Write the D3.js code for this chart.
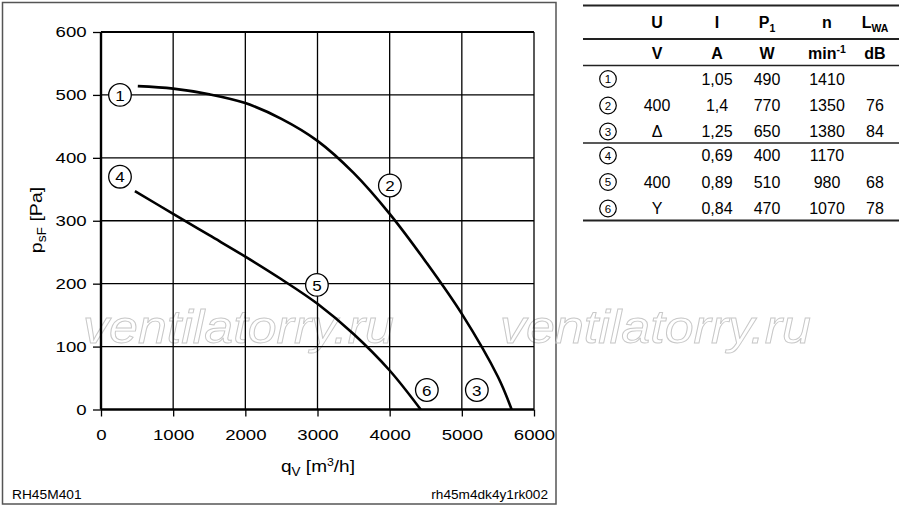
<!DOCTYPE html>
<html>
<head>
<meta charset="utf-8">
<script src="https://cdn.jsdelivr.net/npm/d3@7"></script>
<style>
  body { margin: 0; background: #fff; }
  svg { display: block; font-family: "Liberation Sans", Arial, sans-serif; }
</style>
</head>
<body>
<div id="canvas"></div>
<script>
// curves: [q m3/h, p Pa]
const curveHigh = [[510, 514], [1000, 510], [1500, 501], [2000, 487], [2500, 462], [3000, 427],
  [3500, 376], [4000, 311], [4500, 235], [5000, 152], [5500, 52], [5690, 0]];
const curveLow = [[470, 347], [1000, 311], [1500, 277], [2000, 243], [2500, 207], [3000, 168],
  [3500, 120], [4000, 62], [4430, 0]];

// circled markers on the plot
const markerIds = ["1", "2", "3", "4", "5", "6"];
const markerPos = [[263, 500], [4003, 356], [5208, 31], [263, 370], [2992, 198], [4515, 31]];

const xTicks = [0, 1000, 2000, 3000, 4000, 5000, 6000];
const yTicks = [0, 100, 200, 300, 400, 500, 600];

// table
const colHead = ["U", "I", "P", "n", "L"];
const colHeadSub = ["", "", "1", "", "WA"];
const colUnit = ["V", "A", "W", "min", "dB"];
const colUnitSup = ["", "", "", "-1", ""];
const rowIds = ["1", "2", "3", "4", "5", "6"];
const colU = ["", "400", "\u0394", "", "400", "Y"];
const colI = ["1,05", "1,4", "1,25", "0,69", "0,89", "0,84"];
const colP = ["490", "770", "650", "400", "510", "470"];
const colN = ["1410", "1350", "1380", "1170", "980", "1070"];
const colL = ["", "76", "84", "", "68", "78"];

const width = 900, height = 507;
const margin = { top: 32, left: 101, bottom: 97.5, right: 366 };
const iwidth = width - margin.left - margin.right;
const iheight = height - margin.top - margin.bottom;

const svg = d3.select("#canvas").append("svg")
  .attr("width", width)
  .attr("height", height);

// outer frame
svg.append("rect")
  .attr("x", 2.5).attr("y", 2.5)
  .attr("width", 553.5).attr("height", 501.5)
  .attr("fill", "none").attr("stroke", "#555").attr("stroke-width", 1.5);

// watermark
[83, 500].forEach(wx => {
  svg.append("text")
    .attr("transform", `translate(${wx},343) scale(1.13,1)`)
    .attr("font-size", 46).attr("font-style", "italic")
    .attr("fill", "none").attr("stroke", "#c8c8c8").attr("stroke-width", 0.9)
    .text("ventilatorry.ru");
});

const g = svg.append("g").attr("transform", `translate(${margin.left},${margin.top})`);

const x = d3.scaleLinear().domain([0, 6000]).range([0, iwidth]);
const y = d3.scaleLinear().domain([0, 600]).range([iheight, 0]);

// grid
g.append("g").selectAll("line").data(xTicks.slice(1)).enter().append("line")
  .attr("x1", d => x(d)).attr("x2", d => x(d))
  .attr("y1", 0).attr("y2", iheight)
  .attr("stroke", "#000").attr("stroke-width", 1.3);
g.append("g").selectAll("line").data(yTicks.slice(1)).enter().append("line")
  .attr("x1", 0).attr("x2", iwidth)
  .attr("y1", d => y(d)).attr("y2", d => y(d))
  .attr("stroke", "#000").attr("stroke-width", d => d === 600 ? 2.2 : 1.3);

// axes
const xAxis = g.append("g")
  .attr("transform", `translate(0,${iheight})`)
  .call(d3.axisBottom(x).tickValues(xTicks).tickSize(7).tickPadding(13).tickFormat(d3.format("d")));
const yAxis = g.append("g")
  .call(d3.axisLeft(y).tickValues(yTicks).tickSize(8).tickPadding(4).tickFormat(d3.format("d")));
[xAxis, yAxis].forEach(a => {
  a.select(".domain").attr("stroke", "#000").attr("stroke-width", 2.4);
  a.selectAll(".tick line").attr("stroke", "#000").attr("stroke-width", 1.3);
  a.selectAll(".tick text").attr("font-size", 15.5).attr("fill", "#000")
    .attr("transform", "scale(1.2,1)")
    .attr("font-family", "Liberation Sans, Arial, sans-serif");
});
xAxis.select(".domain").attr("d", `M0,0H${iwidth}`);
yAxis.select(".domain").attr("d", `M0,${iheight}V0`);

// curves
const line = d3.line().x(d => x(d[0])).y(d => y(d[1])).curve(d3.curveCatmullRom.alpha(0.5));
[curveHigh, curveLow].forEach(c => {
  g.append("path").datum(c)
    .attr("d", line)
    .attr("fill", "none").attr("stroke", "#000").attr("stroke-width", 2.6);
});

// circled markers
const mk = g.selectAll(".mk").data(markerIds).enter().append("g")
  .attr("transform", (d, i) => `translate(${x(markerPos[i][0])},${y(markerPos[i][1])})`);
mk.append("circle").attr("r", 11.3).attr("fill", "#fff").attr("stroke", "#000").attr("stroke-width", 1.3);
mk.append("text").attr("text-anchor", "middle").attr("dy", "0.36em")
  .attr("font-size", 15.5).attr("transform", "scale(1.1,1)").text(d => d);

// axis titles
const yl = svg.append("text")
  .attr("transform", "translate(42,220) rotate(-90) scale(1.15,1)")
  .attr("text-anchor", "middle").attr("font-size", 17);
yl.append("tspan").text("p");
yl.append("tspan").attr("dy", 4).attr("font-size", 12).text("sF");
yl.append("tspan").attr("dy", -4).text(" [Pa]");

const xl = svg.append("text")
  .attr("transform", "translate(318,472) scale(1.12,1)")
  .attr("text-anchor", "middle").attr("font-size", 17);
xl.append("tspan").text("q");
xl.append("tspan").attr("dy", 4).attr("font-size", 12).text("V");
xl.append("tspan").attr("dy", -4).text(" [m");
xl.append("tspan").attr("dy", -6).attr("font-size", 11).text("3");
xl.append("tspan").attr("dy", 6).text("/h]");

// footer
svg.append("text").attr("transform", "translate(12,499) scale(1.06,1)")
  .attr("font-size", 13).text("RH45M401");
svg.append("text").attr("transform", "translate(548,499) scale(1.05,1)").attr("text-anchor", "end")
  .attr("font-size", 13).text("rh45m4dk4y1rk002");

// table
const colX = [657, 717, 767, 827, 875];
const rowY = [79, 105.5, 131.5, 155.5, 182, 208.5];
const tl = 583, tr = 899;
[[5.5, 2], [39, 2], [65.5, 1.6], [143, 1.6], [220.5, 2]].forEach(([ly, w]) => {
  svg.append("line").attr("x1", tl).attr("x2", tr).attr("y1", ly).attr("y2", ly)
    .attr("stroke", "#222").attr("stroke-width", w);
});
const t = svg.append("g").attr("font-size", 16);
colHead.forEach((h, i) => {
  const tx = t.append("text").attr("x", colX[i]).attr("y", 28)
    .attr("text-anchor", "middle").attr("font-weight", "bold");
  tx.append("tspan").text(h);
  if (colHeadSub[i]) tx.append("tspan").attr("dy", 4).attr("font-size", 10.5).text(colHeadSub[i]);
});
colUnit.forEach((h, i) => {
  const tx = t.append("text").attr("x", colX[i]).attr("y", 59)
    .attr("text-anchor", "middle").attr("font-weight", "bold");
  tx.append("tspan").text(h);
  if (colUnitSup[i]) tx.append("tspan").attr("dy", -6).attr("font-size", 10.5).text(colUnitSup[i]);
});
const cols = [colU, colI, colP, colN, colL];
rowIds.forEach((id, r) => {
  const c = t.append("g").attr("transform", `translate(608,${rowY[r]})`);
  c.append("circle").attr("r", 8.3).attr("fill", "#fff").attr("stroke", "#000").attr("stroke-width", 1.2);
  c.append("text").attr("text-anchor", "middle").attr("dy", "0.36em").attr("font-size", 11.5).text(id);
  cols.forEach((col, ci) => {
    t.append("text").attr("x", colX[ci]).attr("y", rowY[r]).attr("dy", "0.36em")
      .attr("text-anchor", "middle").text(col[r]);
  });
});
</script>
</body>
</html>
